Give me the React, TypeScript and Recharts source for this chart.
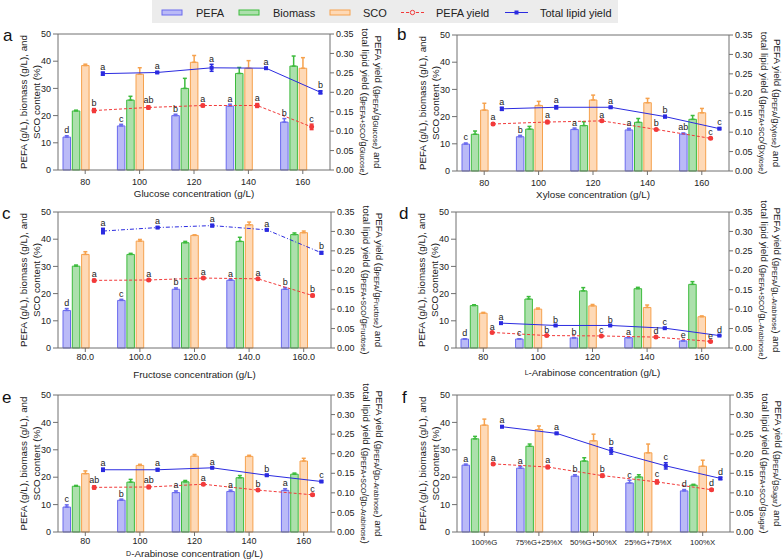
import React from "react";
import {
  Bar,
  ComposedChart,
  ErrorBar,
  LabelList,
  Line,
  ReferenceLine,
  XAxis,
  YAxis,
} from "recharts";

// tick labels
const concTicks = ["80", "100", "120", "140", "160"];
const fructoseTicks = ["80.0", "100.0", "120.0", "140.0", "160.0"];
const mixTicks = ["100%G", "75%G+25%X", "50%G+50%X", "25%G+75%X", "100%X"];
const leftTicks = [0, 10, 20, 30, 40, 50];
const rightTicks = [0, 0.05, 0.1, 0.15, 0.2, 0.25, 0.3, 0.35];
const legendNames = ["PEFA", "Biomass", "SCO", "PEFA yield", "Total lipid yield"];

// a – glucose
const aPefa = [12.1, 16.2, 20.0, 23.5, 17.6];
const aPefaErr = [0.5, 0.6, 0.5, 0.7, 1.3];
const aPefaSig = ["d", "c", "b", "a", "b"];
const aBiomass = [21.7, 25.7, 30.0, 35.5, 38.2];
const aBiomassErr = [0.3, 1.4, 3.7, 2.2, 3.7];
const aSco = [38.4, 35.2, 39.6, 37.4, 37.4];
const aScoErr = [0.5, 2.4, 2.5, 2.8, 3.9];
const aPefaYield = [0.153, 0.161, 0.166, 0.166, 0.111];
const aPefaYieldErr = [0.005, 0.004, 0.003, 0.005, 0.007];
const aPefaYieldSig = ["b", "ab", "a", "a", "c"];
const aLipidYield = [0.248, 0.251, 0.263, 0.262, 0.2];
const aLipidYieldErr = [0.004, 0.002, 0.009, 0.002, 0.004];
const aLipidYieldSig = ["a", "a", "a", "a", "b"];

// b – xylose
const bPefa = [9.9, 12.6, 15.3, 15.1, 13.6];
const bPefaErr = [0.4, 0.5, 0.5, 0.6, 0.4];
const bPefaSig = ["c", "b", "a", "a", "ab"];
const bBiomass = [13.5, 15.4, 16.7, 17.9, 19.0];
const bBiomassErr = [1.2, 1.0, 1.4, 1.4, 1.4];
const bSco = [22.4, 24.1, 26.1, 25.1, 21.4];
const bScoErr = [2.5, 1.5, 1.8, 1.6, 1.6];
const bPefaYield = [0.121, 0.126, 0.129, 0.107, 0.084];
const bPefaYieldErr = [0.003, 0.004, 0.002, 0.002, 0.002];
const bPefaYieldSig = ["a", "a", "a", "b", "c"];
const bLipidYield = [0.16, 0.164, 0.164, 0.14, 0.109];
const bLipidYieldErr = [0.004, 0.004, 0.002, 0.003, 0.002];
const bLipidYieldSig = ["a", "a", "a", "b", "c"];

// c – fructose
const cPefa = [13.8, 17.5, 21.6, 24.9, 21.6];
const cPefaErr = [0.7, 0.4, 0.5, 0.4, 0.6];
const cPefaSig = ["d", "c", "b", "a", "b"];
const cBiomass = [30.1, 34.4, 38.7, 39.2, 41.7];
const cBiomassErr = [0.4, 0.4, 0.5, 1.5, 0.6];
const cSco = [34.4, 39.3, 41.4, 45.3, 42.4];
const cScoErr = [1.0, 0.6, 0.2, 1.0, 0.6];
const cPefaYield = [0.174, 0.175, 0.18, 0.178, 0.135];
const cPefaYieldErr = [0.003, 0.002, 0.002, 0.002, 0.003];
const cPefaYieldSig = ["a", "a", "a", "a", "b"];
const cLipidYield = [0.301, 0.31, 0.315, 0.304, 0.245];
const cLipidYieldErr = [0.007, 0.002, 0.003, 0.002, 0.003];
const cLipidYieldSig = ["a", "a", "a", "a", "b"];

// d – L-arabinose
const dPefa = [3.3, 3.3, 3.7, 3.8, 2.6];
const dPefaErr = [0.1, 0.1, 0.1, 0.1, 0.1];
const dPefaSig = ["d", "c", "b", "a", "e"];
const dBiomass = [15.6, 18.0, 21.0, 21.8, 23.4];
const dBiomassErr = [0.3, 0.9, 1.2, 0.5, 1.0];
const dSco = [12.8, 14.3, 15.5, 14.9, 11.5];
const dScoErr = [0.3, 0.4, 0.5, 0.9, 0.3];
const dPefaYield = [0.04, 0.032, 0.031, 0.028, 0.017];
const dPefaYieldErr = [0.001, 0.001, 0.001, 0.001, 0.001];
const dPefaYieldSig = ["a", "b", "c", "d", "e"];
const dLipidYield = [0.064, 0.058, 0.058, 0.051, 0.032];
const dLipidYieldErr = [0.001, 0.001, 0.001, 0.001, 0.001];
const dLipidYieldSig = ["a", "b", "b", "c", "d"];

// e – D-arabinose
const ePefa = [9.1, 11.6, 14.4, 14.8, 15.2];
const ePefaErr = [0.8, 0.4, 0.6, 0.5, 0.6];
const ePefaSig = ["c", "b", "a", "a", "a"];
const eBiomass = [16.7, 18.2, 18.3, 19.8, 21.1];
const eBiomassErr = [0.3, 1.0, 0.5, 0.8, 0.4];
const eSco = [21.3, 24.3, 27.7, 27.6, 25.9];
const eScoErr = [1.0, 0.4, 0.6, 0.4, 1.0];
const ePefaYield = [0.114, 0.115, 0.122, 0.107, 0.095];
const ePefaYieldErr = [0.004, 0.004, 0.002, 0.002, 0.002];
const ePefaYieldSig = ["ab", "ab", "a", "b", "c"];
const eLipidYield = [0.159, 0.159, 0.164, 0.145, 0.129];
const eLipidYieldErr = [0.004, 0.003, 0.001, 0.002, 0.002];
const eLipidYieldSig = ["a", "a", "a", "b", "c"];

// f – glucose/xylose mixtures
const fPefa = [24.4, 23.3, 20.4, 17.9, 15.0];
const fPefaErr = [0.4, 0.7, 0.5, 1.0, 0.5];
const fPefaSig = ["a", "a", "b", "c", "d"];
const fBiomass = [34.0, 31.3, 25.9, 20.1, 17.1];
const fBiomassErr = [0.9, 0.8, 1.2, 0.8, 0.3];
const fSco = [39.0, 37.4, 33.3, 28.9, 24.0];
const fScoErr = [2.2, 1.3, 2.4, 3.2, 2.2];
const fPefaYield = [0.174, 0.166, 0.144, 0.128, 0.108];
const fPefaYieldErr = [0.002, 0.004, 0.004, 0.005, 0.002];
const fPefaYieldSig = ["a", "a", "b", "c", "d"];
const fLipidYield = [0.269, 0.252, 0.207, 0.169, 0.137];
const fLipidYieldErr = [0.002, 0.002, 0.008, 0.008, 0.003];
const fLipidYieldSig = ["a", "a", "b", "c", "d"];

const AXIS = "#707070";
const INK = "#222";
const PEFA_FILL = "#babaf7";
const PEFA_LINE = "#6a6aee";
const BIO_FILL = "#ace0ac";
const BIO_LINE = "#3dbb3d";
const SCO_FILL = "#fed9b6";
const SCO_LINE = "#f6a24e";
const RED = "#f23a3a";
const BLUE = "#2b2be0";

// the two yield lines sit one and two bar slots right of each group
const LINE_SLOT = 0.162;

const small = (s: string) => <tspan fontSize={7}>{s}</tspan>;

function letterAbove(sig: string[], err: number[], pxPerUnit: number) {
  return (props: any) => {
    const vb = props.viewBox || {};
    const i = props.index;
    const x0 = vb.x ?? props.x;
    const top = vb.y ?? props.y;
    const w = vb.width ?? props.width ?? 0;
    if (i == null || x0 == null || top == null) return null;
    return (
      <text key={`sig-${i}`} x={x0 + w / 2} y={top - err[i] * pxPerUnit - 2.5} textAnchor="middle" fontSize={9} fill={INK}>
        {sig[i]}
      </text>
    );
  };
}

const LeftTitle = (props: any) => {
  const vb = props.viewBox;
  const right = vb.x + vb.width;
  const cy = vb.y + vb.height / 2;
  const x1 = right - 35;
  const x2 = right - 22;
  return (
    <g fill={INK} fontSize={9.8}>
      <text x={x1} y={cy} transform={`rotate(-90 ${x1} ${cy})`} textAnchor="middle" dominantBaseline="central">
        PEFA (g/L), biomass (g/L), and
      </text>
      <text x={x2} y={cy} transform={`rotate(-90 ${x2} ${cy})`} textAnchor="middle" dominantBaseline="central">
        SCO content  (%)
      </text>
    </g>
  );
};

const RightTitle = (props: any) => {
  const vb = props.viewBox;
  const sugar = props.sugar as string;
  const cy = vb.y + vb.height / 2;
  const x1 = vb.x + 48;
  const x2 = vb.x + 35;
  return (
    <g fill={INK} fontSize={9.8}>
      <text x={x1} y={cy} transform={`rotate(90 ${x1} ${cy})`} textAnchor="middle" dominantBaseline="central">
        PEFA yield (g<tspan fontSize={7} dy={2}>PEFA</tspan>
        <tspan dy={-2}>/g</tspan>
        <tspan fontSize={7} dy={2}>{sugar}</tspan>
        <tspan dy={-2}>) and</tspan>
      </text>
      <text x={x2} y={cy} transform={`rotate(90 ${x2} ${cy})`} textAnchor="middle" dominantBaseline="central">
        total lipid yield (g<tspan fontSize={7} dy={2}>PEFA+SCO</tspan>
        <tspan dy={-2}>/g</tspan>
        <tspan fontSize={7} dy={2}>{sugar}</tspan>
        <tspan dy={-2}>)</tspan>
      </text>
    </g>
  );
};

const XTitle = (props: any) => {
  const vb = props.viewBox;
  if (!props.title) return null;
  return (
    <text x={vb.x + vb.width / 2} y={vb.y + props.dy} textAnchor="middle" dominantBaseline="central" fontSize={9.8} fill={INK}>
      {props.title}
    </text>
  );
};

type PanelSpec = {
  letter: string;
  left: number;
  plotLeft: number;
  plotTop: number;
  plotW: number;
  plotH: number;
  cats: string[];
  pefa: number[];
  pefaErr: number[];
  pefaSig: string[];
  biomass: number[];
  biomassErr: number[];
  sco: number[];
  scoErr: number[];
  pefaYield: number[];
  pefaYieldErr: number[];
  pefaYieldSig: string[];
  lipidYield: number[];
  lipidYieldErr: number[];
  lipidYieldSig: string[];
  sugar: string;
  title: React.ReactNode;
  titleDy: number;
  tickGap: number;
  tickFont: number;
  lipidDash?: string;
};

const panels: PanelSpec[] = [
  {
    letter: "a", left: 0, plotLeft: 58, plotTop: 34, plotW: 272, plotH: 136, cats: concTicks,
    pefa: aPefa, pefaErr: aPefaErr, pefaSig: aPefaSig, biomass: aBiomass, biomassErr: aBiomassErr,
    sco: aSco, scoErr: aScoErr, pefaYield: aPefaYield, pefaYieldErr: aPefaYieldErr, pefaYieldSig: aPefaYieldSig,
    lipidYield: aLipidYield, lipidYieldErr: aLipidYieldErr, lipidYieldSig: aLipidYieldSig,
    sugar: "Glucose", title: "Glucose concentration (g/L)", titleDy: 23, tickGap: 5, tickFont: 9,
  },
  {
    letter: "b", left: 392, plotLeft: 457, plotTop: 35, plotW: 272, plotH: 136, cats: concTicks,
    pefa: bPefa, pefaErr: bPefaErr, pefaSig: bPefaSig, biomass: bBiomass, biomassErr: bBiomassErr,
    sco: bSco, scoErr: bScoErr, pefaYield: bPefaYield, pefaYieldErr: bPefaYieldErr, pefaYieldSig: bPefaYieldSig,
    lipidYield: bLipidYield, lipidYieldErr: bLipidYieldErr, lipidYieldSig: bLipidYieldSig,
    sugar: "Xylose", title: "Xylose concentration (g/L)", titleDy: 23, tickGap: 5, tickFont: 9,
  },
  {
    letter: "c", left: 0, plotLeft: 58, plotTop: 212, plotW: 273, plotH: 136, cats: fructoseTicks,
    pefa: cPefa, pefaErr: cPefaErr, pefaSig: cPefaSig, biomass: cBiomass, biomassErr: cBiomassErr,
    sco: cSco, scoErr: cScoErr, pefaYield: cPefaYield, pefaYieldErr: cPefaYieldErr, pefaYieldSig: cPefaYieldSig,
    lipidYield: cLipidYield, lipidYieldErr: cLipidYieldErr, lipidYieldSig: cLipidYieldSig,
    sugar: "Fructose", title: "Fructose concentration (g/L)", titleDy: 26, tickGap: 2, tickFont: 9,
    lipidDash: "4 2 1 2",
  },
  {
    letter: "d", left: 392, plotLeft: 456, plotTop: 212, plotW: 273, plotH: 136, cats: concTicks,
    pefa: dPefa, pefaErr: dPefaErr, pefaSig: dPefaSig, biomass: dBiomass, biomassErr: dBiomassErr,
    sco: dSco, scoErr: dScoErr, pefaYield: dPefaYield, pefaYieldErr: dPefaYieldErr, pefaYieldSig: dPefaYieldSig,
    lipidYield: dLipidYield, lipidYieldErr: dLipidYieldErr, lipidYieldSig: dLipidYieldSig,
    sugar: "L-Arabinose", title: <>{small("L")}-Arabinose concentration (g/L)</>, titleDy: 24, tickGap: 2, tickFont: 9,
  },
  {
    letter: "e", left: 0, plotLeft: 58, plotTop: 395, plotW: 273, plotH: 137, cats: concTicks,
    pefa: ePefa, pefaErr: ePefaErr, pefaSig: ePefaSig, biomass: eBiomass, biomassErr: eBiomassErr,
    sco: eSco, scoErr: eScoErr, pefaYield: ePefaYield, pefaYieldErr: ePefaYieldErr, pefaYieldSig: ePefaYieldSig,
    lipidYield: eLipidYield, lipidYieldErr: eLipidYieldErr, lipidYieldSig: eLipidYieldSig,
    sugar: "D-Arabinose", title: <>{small("D")}-Arabinose concentration (g/L)</>, titleDy: 21, tickGap: 2, tickFont: 9,
  },
  {
    letter: "f", left: 392, plotLeft: 457, plotTop: 395, plotW: 273, plotH: 137, cats: mixTicks,
    pefa: fPefa, pefaErr: fPefaErr, pefaSig: fPefaSig, biomass: fBiomass, biomassErr: fBiomassErr,
    sco: fSco, scoErr: fScoErr, pefaYield: fPefaYield, pefaYieldErr: fPefaYieldErr, pefaYieldSig: fPefaYieldSig,
    lipidYield: fLipidYield, lipidYieldErr: fLipidYieldErr, lipidYieldSig: fLipidYieldSig,
    sugar: "Sugar", title: null, titleDy: 23, tickGap: 3, tickFont: 7.8,
  },
];

const redDot = (p: any) => <circle key={`pd-${p.index}`} cx={p.cx} cy={p.cy} r={2.5} fill={RED} />;
const blueDot = (p: any) => <rect key={`ld-${p.index}`} x={p.cx - 2} y={p.cy - 2} width={4} height={4} fill={BLUE} />;

function Panel({ spec }: { spec: PanelSpec }) {
  const W = 392;
  const TOP = 12;
  const XH = 40;
  const plotRight = spec.plotLeft + spec.plotW;
  const pxLeft = spec.plotH / 50;
  const pxRight = spec.plotH / 0.35;
  const rows = spec.cats.map((cat, i) => ({
    cat,
    pefa: spec.pefa[i],
    pefaErr: [0, spec.pefaErr[i]],
    biomass: spec.biomass[i],
    biomassErr: [0, spec.biomassErr[i]],
    sco: spec.sco[i],
    scoErr: [0, spec.scoErr[i]],
    g1: 0,
    g2: 0,
    xp: i + 0.5 + LINE_SLOT,
    xt: i + 0.5 + 2 * LINE_SLOT,
    py: spec.pefaYield[i],
    pyErr: spec.pefaYieldErr[i],
    ly: spec.lipidYield[i],
    lyErr: spec.lipidYieldErr[i],
  }));
  const tick = { fontSize: 9, fill: INK };
  return (
    <div style={{ position: "absolute", left: spec.left, top: spec.plotTop - TOP }}>
      <ComposedChart
        width={W}
        height={TOP + spec.plotH + XH}
        data={rows}
        margin={{ top: TOP, right: 0, bottom: 0, left: 0 }}
        barSize={7.5}
        barGap={1.8}
      >
        <XAxis
          xAxisId="c"
          dataKey="cat"
          type="category"
          interval={0}
          height={XH}
          tickSize={4}
          tickMargin={spec.tickGap}
          tick={{ fontSize: spec.tickFont, fill: INK }}
          stroke={AXIS}
          label={<XTitle title={spec.title} dy={spec.titleDy} />}
        />
        <XAxis xAxisId="p" dataKey="xp" type="number" domain={[0, 5]} hide />
        <XAxis xAxisId="t" dataKey="xt" type="number" domain={[0, 5]} hide />
        <YAxis
          yAxisId="l"
          domain={[0, 50]}
          ticks={leftTicks}
          width={spec.plotLeft - spec.left}
          tickSize={5}
          tickMargin={2}
          tick={tick}
          stroke={AXIS}
          label={<LeftTitle />}
        />
        <YAxis
          yAxisId="r"
          orientation="right"
          domain={[0, 0.35]}
          ticks={rightTicks}
          width={spec.left + W - plotRight}
          tickSize={4}
          tickMargin={2}
          tick={tick}
          stroke={AXIS}
          tickFormatter={(v: number) => v.toFixed(2)}
          label={<RightTitle sugar={spec.sugar} />}
        />
        <ReferenceLine xAxisId="c" yAxisId="l" y={50} stroke={AXIS} />
        <Bar xAxisId="c" yAxisId="l" dataKey="pefa" fill={PEFA_FILL} stroke={PEFA_LINE} isAnimationActive={false}>
          <ErrorBar dataKey="pefaErr" direction="y" width={2} stroke={PEFA_LINE} isAnimationActive={false} />
          <LabelList dataKey="pefa" content={letterAbove(spec.pefaSig, spec.pefaErr, pxLeft)} />
        </Bar>
        <Bar xAxisId="c" yAxisId="l" dataKey="biomass" fill={BIO_FILL} stroke={BIO_LINE} isAnimationActive={false}>
          <ErrorBar dataKey="biomassErr" direction="y" width={2} stroke={BIO_LINE} isAnimationActive={false} />
        </Bar>
        <Bar xAxisId="c" yAxisId="l" dataKey="sco" fill={SCO_FILL} stroke={SCO_LINE} isAnimationActive={false}>
          <ErrorBar dataKey="scoErr" direction="y" width={2} stroke={SCO_LINE} isAnimationActive={false} />
        </Bar>
        <Bar xAxisId="c" yAxisId="l" dataKey="g1" fill="none" isAnimationActive={false} legendType="none" />
        <Bar xAxisId="c" yAxisId="l" dataKey="g2" fill="none" isAnimationActive={false} legendType="none" />
        <Line
          xAxisId="p"
          yAxisId="r"
          dataKey="py"
          stroke={RED}
          strokeWidth={1}
          strokeDasharray="3 2"
          dot={redDot}
          activeDot={false}
          isAnimationActive={false}
        >
          <ErrorBar dataKey="pyErr" direction="y" width={2} stroke={RED} isAnimationActive={false} />
          <LabelList dataKey="py" content={letterAbove(spec.pefaYieldSig, spec.pefaYieldErr, pxRight)} />
        </Line>
        <Line
          xAxisId="t"
          yAxisId="r"
          dataKey="ly"
          stroke={BLUE}
          strokeWidth={1}
          strokeDasharray={spec.lipidDash}
          dot={blueDot}
          activeDot={false}
          isAnimationActive={false}
        >
          <ErrorBar dataKey="lyErr" direction="y" width={2} stroke={BLUE} isAnimationActive={false} />
          <LabelList dataKey="ly" content={letterAbove(spec.lipidYieldSig, spec.lipidYieldErr, pxRight)} />
        </Line>
      </ComposedChart>
    </div>
  );
}

const letterPos: Record<string, [number, number]> = {
  a: [3, 41], b: [397, 40], c: [2, 219], d: [399, 219], e: [2, 403], f: [402, 403],
};

function Legend() {
  const textX = [196, 273, 363, 436, 540];
  return (
    <g fontSize={11} fill={INK}>
      <rect x={152} y={0} width={466} height={23} fill="#ececec" />
      <rect x={162} y={10} width={20} height={5} fill={PEFA_FILL} stroke={PEFA_LINE} />
      <rect x={239} y={10} width={20} height={5} fill={BIO_FILL} stroke={BIO_LINE} />
      <rect x={330} y={10} width={20} height={5} fill={SCO_FILL} stroke={SCO_LINE} />
      <line x1={401} x2={424} y1={12.5} y2={12.5} stroke={RED} strokeDasharray="3 2" />
      <circle cx={412.5} cy={12.5} r={2.2} fill="#ececec" stroke={RED} />
      <line x1={505} x2={528} y1={12.5} y2={12.5} stroke={BLUE} />
      <rect x={514.5} y={10.5} width={4} height={4} fill={BLUE} />
      {legendNames.map((n, i) => (
        <text key={n} x={textX[i]} y={16.5}>
          {n}
        </text>
      ))}
    </g>
  );
}

export default function App() {
  return (
    <div
      style={{
        position: "absolute",
        left: 0,
        top: 0,
        width: 784,
        height: 560,
        background: "#fff",
        fontFamily: "'Liberation Sans', Arial, sans-serif",
        overflow: "hidden",
      }}
    >
      {panels.map((p) => (
        <Panel key={p.letter} spec={p} />
      ))}
      <svg width={784} height={560} style={{ position: "absolute", left: 0, top: 0, pointerEvents: "none" }}>
        <Legend />
        {panels.map((p) => (
          <text key={p.letter} x={letterPos[p.letter][0]} y={letterPos[p.letter][1]} fontSize={17} fill="#111">
            {p.letter}
          </text>
        ))}
      </svg>
    </div>
  );
}
